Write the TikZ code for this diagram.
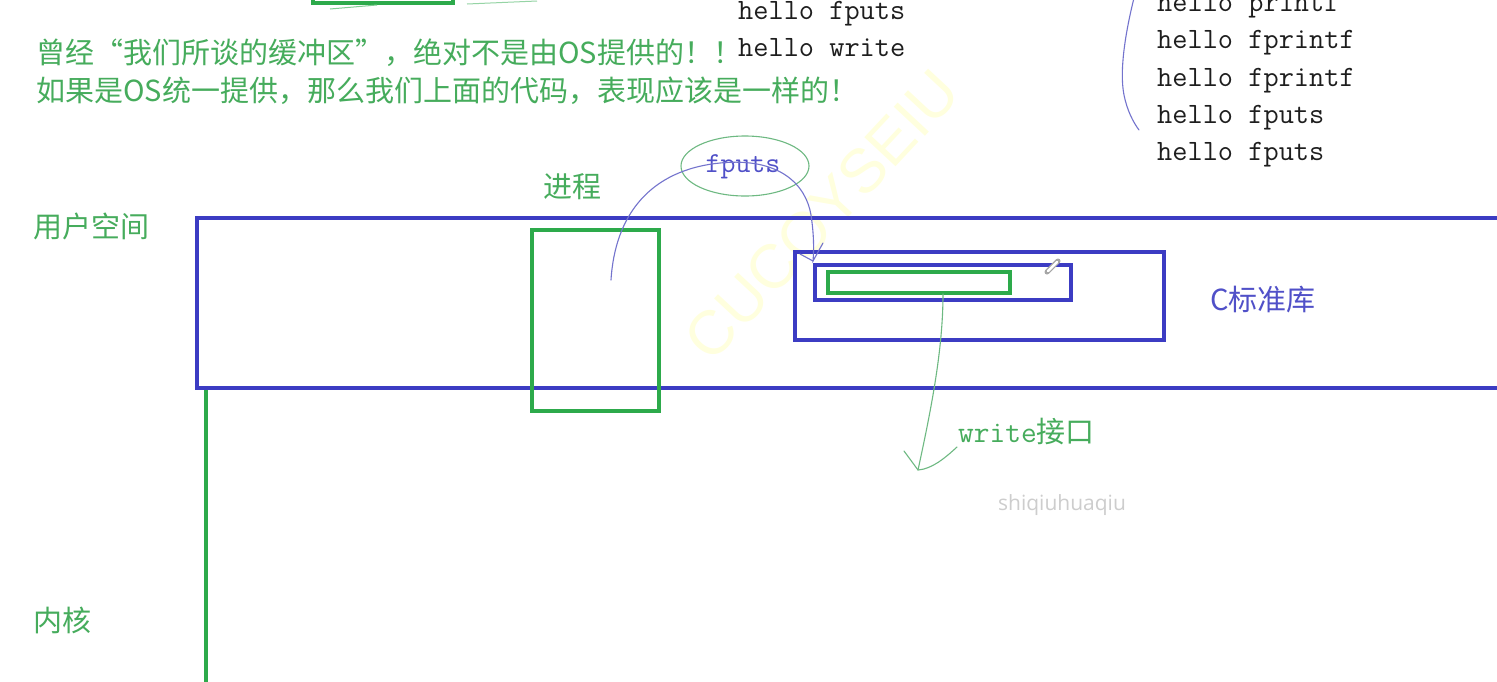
\documentclass[tikz,border=0pt]{standalone}
\usepackage{fontspec}
\newfontfamily\cjk{Noto Sans CJK SC}
\newfontfamily\wmfont{Liberation Sans}
\newfontfamily\grayfont{Open Sans}
\definecolor{tgreen}{RGB}{70,172,92}
\definecolor{lgreen}{RGB}{45,170,75}
\definecolor{lblue}{RGB}{60,60,195}
\definecolor{tblue}{RGB}{80,80,200}
\definecolor{penblue}{RGB}{115,115,205}
\definecolor{pengreen}{RGB}{110,185,130}
\definecolor{wmyellow}{RGB}{255,255,222}
\definecolor{wmgray}{RGB}{205,205,205}
\definecolor{txtblack}{RGB}{30,30,30}
\tikzset{
  cjktext/.style={font=\cjk\fontsize{29}{34}\selectfont, inner sep=0pt, anchor=west, text=tgreen},
  monotext/.style={font=\ttfamily\fontsize{29.5}{34}\selectfont, inner sep=0pt, anchor=base west, text=txtblack},
  bluebox/.style={draw=lblue, line width=4pt, inner sep=0pt},
  greenbox/.style={draw=lgreen, line width=3.5pt, inner sep=0pt},
  penline/.style={draw=penblue, line width=1.1pt, line cap=round},
  greenpen/.style={draw=pengreen, line width=1.1pt, line cap=round}
}
\begin{document}
\begin{tikzpicture}[x=1pt,y=-1pt]
\useasboundingbox (0,0) rectangle (1497,681);
\clip (0,0) rectangle (1497,681);
\fill[white] (0,0) rectangle (1497,681);

% watermark
\node[font=\wmfont\fontsize{62}{62}\selectfont, text=wmyellow, rotate=47, inner sep=0pt] (wm) at (822,215) {CUCOYSEIU};

% top partial green box and strokes
\node[greenbox, minimum width=140pt, minimum height=40pt] (topbox) at (383,-17) {};
\draw[draw=lgreen!60, line width=1pt] (330,9) -- (377,5);
\draw[draw=lgreen!50, line width=1pt] (467,4) -- (537,1);

% top texts
\node[monotext] (hf1) at (738,19) {hello fputs};
\node[monotext] (hw1) at (738,56) {hello write};
\node[monotext] (rp) at (1157,11) {hello printf};
\node[monotext] (rf1) at (1157,48) {hello fprintf};
\node[monotext] (rf2) at (1157,86) {hello fprintf};
\node[monotext] (rs1) at (1157,123) {hello fputs};
\node[monotext] (rs2) at (1157,160) {hello fputs};
\coordinate (br1) at (1134,-2);
\coordinate (br2) at (1139,130);
\draw[penline] (br1) .. controls (1126,30) and (1119,70) .. (1124,95) .. controls (1127,110) and (1133,122) .. (br2);

\node[cjktext] (l1) at (36,53) {曾经“我们所谈的缓冲区”，绝对不是由OS提供的！！};
\node[cjktext] (l2) at (36,91) {如果是OS统一提供，那么我们上面的代码，表现应该是一样的！};

% labels
\node[cjktext] (user) at (33,226) {用户空间};
\node[cjktext] (kernel) at (33,620) {内核};
\node[cjktext] (proc) at (543,187) {进程};
\node[cjktext, text=tblue] (clibl) at (1210,300) {C标准库};
\node[inner sep=0pt, anchor=west, text=tgreen] (writel) at (958,432) {{\ttfamily\fontsize{30.5}{34}\selectfont write}{\cjk\fontsize{29}{34}\selectfont 接口}};
\node[font=\grayfont\fontsize{21}{24}\selectfont, text=wmgray, inner sep=0pt] (wm2) at (1062,505) {shiqiuhuaqiu};

% boxes
\node[bluebox, minimum width=1323pt, minimum height=170pt] (userspace) at (858.5,303) {};
\draw[draw=lgreen, line width=4pt] (206,390) -- (206,690);
\node[greenbox, minimum width=127pt, minimum height=181pt] (process) at (595.5,320.5) {};
\node[bluebox, minimum width=369pt, minimum height=88pt] (clib) at (979.5,296) {};
\node[bluebox, line width=3.2pt, minimum width=256pt, minimum height=35pt] (innerblue) at (943,282.5) {};
\node[greenbox, line width=3.2pt, minimum width=182pt, minimum height=21pt] (innergreen) at (919,282.5) {};

% pen cursor
\draw[gray!70, line width=5pt, line cap=round] (1047,272) -- (1058,261);
\draw[white, line width=2.5pt, line cap=round] (1048,271) -- (1057,262);

% fputs with ellipse
\node[font=\ttfamily\fontsize{29}{34}\selectfont, text=tblue, inner sep=0pt] (fputs) at (743,167) {fputs};
\draw[greenpen] (745,166) ellipse [x radius=64pt, y radius=30pt];

% curve from process to C library
\coordinate (cstart) at (611,280);
\coordinate (cend) at (813,261);
\draw[penline] (cstart) .. controls (615,215) and (650,170) .. (720,163) .. controls (780,157) and (806,185) .. (811,215) .. controls (814,235) and (814,250) .. (cend) -- (823,243);
\draw[penline] (800,254) -- (cend);

% write interface arrow
\coordinate (wstart) at (943,294);
\coordinate (wend) at (918,470);
\draw[greenpen] (wstart) .. controls (943,350) and (931,410) .. (wend);
\draw[greenpen] (904,451) -- (wend) .. controls (932,469) and (945,458) .. (957,447);
\end{tikzpicture}
\end{document}
